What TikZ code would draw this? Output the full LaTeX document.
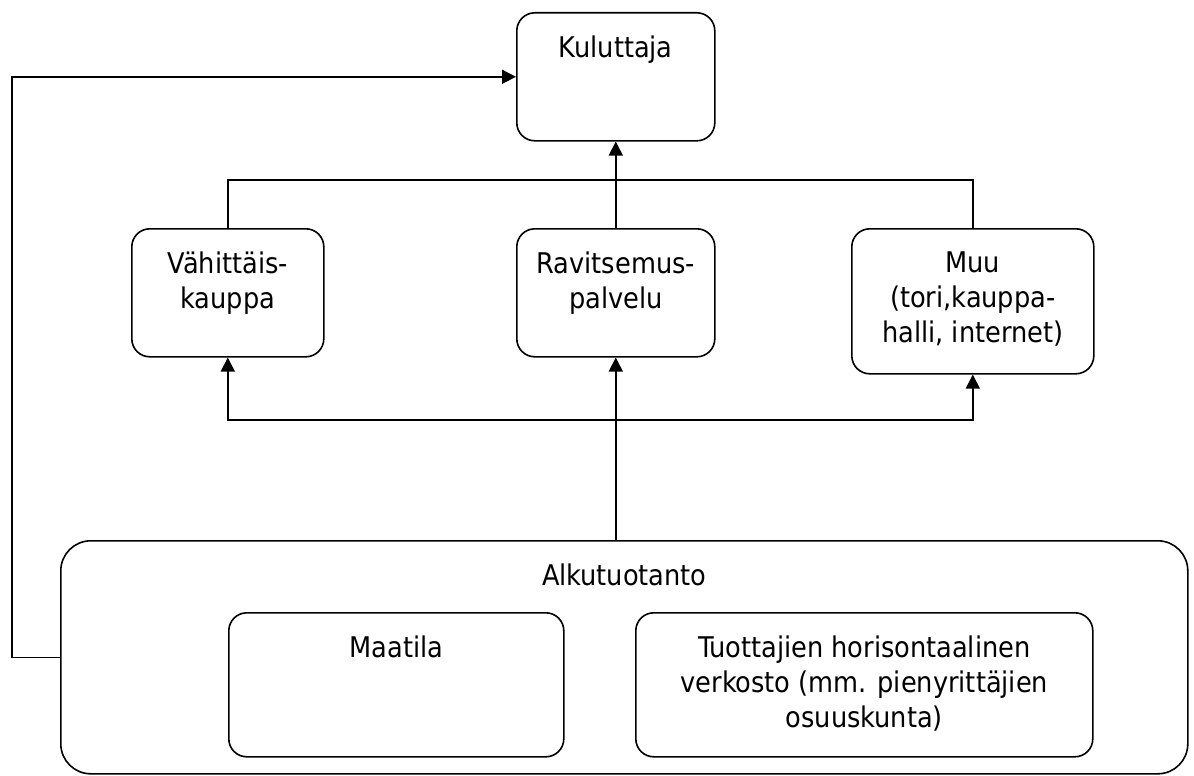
\documentclass[tikz,border=0pt]{standalone}
\usepackage{fontspec}
\setmainfont{DejaVu Sans Condensed}
\usetikzlibrary{arrows.meta}

\begin{document}
\begin{tikzpicture}[
    x=1pt, y=-1pt,
    laatikko/.style={draw, line width=1.6pt, rounded corners=18pt, anchor=north west, inner sep=0pt},
    teksti/.style={anchor=north, inner sep=0pt, align=center, yshift=-24pt, font=\fontsize{28.5}{35}\selectfont},
    viiva/.style={line width=1.6pt},
    pil/.style={viiva, -{Triangle[length=14pt,width=14pt]}}
    ]
\useasboundingbox (0,0) rectangle (1194,776);

%Upper part
\node[laatikko, minimum width=198pt, minimum height=128pt, label={[teksti]north:Kuluttaja}] (kul) at (516,12) {};
\node[laatikko, minimum width=192pt, minimum height=128pt, label={[teksti]north:Vähittäis-\\kauppa}] (vah) at (131,228) {};
\node[laatikko, minimum width=198pt, minimum height=128pt, label={[teksti]north:Ravitsemus-\\palvelu}] (ravi) at (516,228) {};
\node[laatikko, minimum width=242pt, minimum height=145pt, label={[teksti]north:Muu\\(tori,kauppa-\\halli, internet)}] (muu) at (851,228) {};

%Lower part
\node[laatikko, rounded corners=30pt, minimum width=1127pt, minimum height=233pt, label={[teksti]north:Alkutuotanto}] (alku) at (60,540) {};
\node[laatikko, minimum width=335pt, minimum height=144pt, label={[teksti]north:Maatila}] (maa) at (228,612) {};
\node[laatikko, minimum width=457pt, minimum height=144pt, label={[teksti]north:Tuottajien horisontaalinen\\verkosto (mm. pienyrittäjien\\osuuskunta)}] (tuo) at (635,612) {};

\coordinate (yla) at (615,180);
\coordinate (ala) at (615,420);

\draw[viiva] (vah.north) |- (yla) -| (muu.north);
\draw[pil] (ravi.north) -- (kul.south);
\draw[pil] (ravi.south |- alku.north) -- (ravi.south);
\draw[pil] (ala) -| (vah.south);
\draw[pil] (ala) -| (muu.south);
\draw[pil] (alku.west) -- ++(-48,0) |- (kul.west);
\end{tikzpicture}
\end{document}
